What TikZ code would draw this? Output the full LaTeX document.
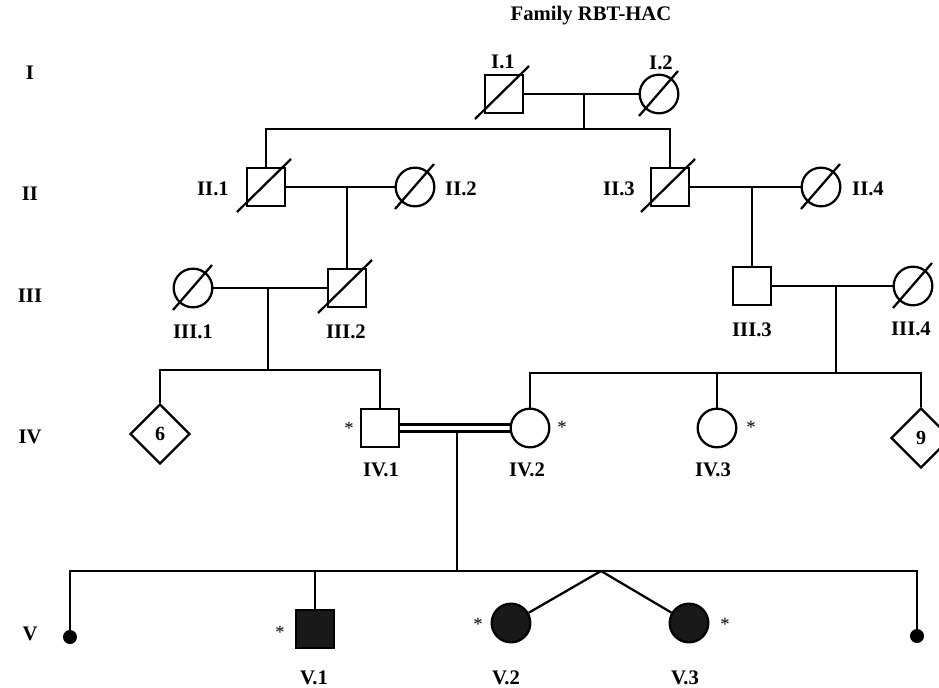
\documentclass[tikz,border=0pt]{standalone}
\usepackage{fontspec}
\setmainfont{Liberation Serif}
\usetikzlibrary{shapes.geometric}
\newcommand\deadsq[1]{\draw ([shift={(-29,25)}]#1.center) -- ([shift={(25,-28)}]#1.center);}
\newcommand\deadci[1]{\draw ([shift={(-20,22)}]#1.center) -- ([shift={(19,-23)}]#1.center);}
\begin{document}
\begin{tikzpicture}[x=0.75pt,y=-0.75pt,
 line width=1.7pt,
 male/.style={draw,rectangle,minimum size=28.5pt,inner sep=0pt},
 female/.style={draw,circle,minimum size=29pt,inner sep=0pt},
 unk/.style={draw,diamond,minimum size=45pt,inner sep=0pt,font=\bfseries\fontsize{15}{17}\selectfont},
 lbl/.style={font=\bfseries\fontsize{15.5}{17}\selectfont,inner sep=0pt},
 star/.style={font=\fontsize{14}{16}\selectfont,inner sep=0pt},
 leaf/.style={circle,fill,minimum size=10.5pt,inner sep=0pt},
 aff/.style={fill=black!90}
]
\useasboundingbox (0,0) rectangle (939,688);
% title and generations
\node[lbl] (title) at (591,16) {Family RBT-HAC};
\node[lbl] (gI) at (30,73) {I};
\node[lbl] (gII) at (30,194) {II};
\node[lbl] (gIII) at (30,296) {III};
\node[lbl] (gIV) at (30,437) {IV};
\node[lbl] (gV) at (30,634) {V};
% generation I
\node[male] (i1) at (504,94) {};
\node[female] (i2) at (659,94) {};
\node[lbl] (li1) at (503,62) {I.1};
\node[lbl] (li2) at (661,63) {I.2};
\deadsq{i1}
\deadci{i2}
\coordinate (m1) at (584,94);
\coordinate (c1) at (584,129);
\draw (i1) -- (i2);
\draw (m1) -- (c1);
% generation II
\node[male] (ii1) at (266,187) {};
\node[female] (ii2) at (415,187) {};
\node[male] (ii3) at (670,187) {};
\node[female] (ii4) at (821,187) {};
\node[lbl] (lii1) at (213,189) {II.1};
\node[lbl] (lii2) at (461,189) {II.2};
\node[lbl] (lii3) at (619,189) {II.3};
\node[lbl] (lii4) at (868,189) {II.4};
\deadsq{ii1}\deadci{ii2}\deadsq{ii3}\deadci{ii4}
\draw (ii1.north) -- (ii1.north |- c1) -- (ii3.north |- c1) -- (ii3.north);
\draw (ii1) -- (ii2);
\draw (ii3) -- (ii4);
\coordinate (m2) at (347,187);
\coordinate (m3) at (752,187);
% generation III
\node[female] (iii1) at (193,288) {};
\node[male] (iii2) at (347,288) {};
\node[male] (iii3) at (752,286) {};
\node[female] (iii4) at (913,286) {};
\node[lbl] (liii1) at (193,332) {III.1};
\node[lbl] (liii2) at (346,332) {III.2};
\node[lbl] (liii3) at (752,330) {III.3};
\node[lbl] (liii4) at (911,329) {III.4};
\deadci{iii1}\deadsq{iii2}\deadci{iii4}
\draw (m2) -- (iii2.north);
\draw (m3) -- (iii3.north);
\draw (iii1) -- (iii2);
\draw (iii3) -- (iii4);
\coordinate (m4) at (268,288);
\coordinate (c4) at (268,370);
\coordinate (m5) at (836,286);
\coordinate (c5) at (836,373);
\draw (m4) -- (c4);
\draw (m5) -- (c5);
% generation IV
\node[unk] (d6) at (160,434) {6};
\node[male] (iv1) at (380,428) {};
\node[female] (iv2) at (530,428) {};
\node[female] (iv3) at (717,428) {};
\node[unk] (d9) at (921,438) {9};
\node[star] (siv1) at (349,428) {*};
\node[star] (siv2) at (562,427) {*};
\node[star] (siv3) at (751,427) {*};
\node[lbl] (liv1) at (381,470) {IV.1};
\node[lbl] (liv2) at (527,470) {IV.2};
\node[lbl] (liv3) at (713,470) {IV.3};
\draw (d6.north) -- (d6.north |- c4) -- (iv1.north |- c4) -- (iv1.north);
\draw (iv2.north) -- (iv2.north |- c5) -- (d9.north |- c5) -- (d9.north);
\draw (iv3.north) -- (iv3.north |- c5);
\draw ([yshift=2.6pt]iv1.east) -- ([yshift=2.6pt]iv2.west);
\draw ([yshift=-2.6pt]iv1.east) -- ([yshift=-2.6pt]iv2.west);
\coordinate (m6) at (457,431.5);
\coordinate (c6) at (457,571);
\draw (m6) -- (c6);
% generation V
\node[leaf] (vl) at (70,637) {};
\node[leaf] (vr) at (917,636) {};
\node[male,aff] (v1) at (315,629) {};
\node[female,aff] (v2) at (511,623) {};
\node[female,aff] (v3) at (689,623) {};
\coordinate (tw) at (601,571);
\node[star] (sv1) at (280,632) {*};
\node[star] (sv2) at (478,624) {*};
\node[star] (sv3) at (725,624) {*};
\node[lbl] (lv1) at (314,678) {V.1};
\node[lbl] (lv2) at (506,678) {V.2};
\node[lbl] (lv3) at (685,678) {V.3};
\draw (vl.center) -- (vl.center |- c6) -- (vr.center |- c6) -- (vr.center);
\draw (v1.north) -- (v1.north |- c6);
\draw (tw) -- (v2);
\draw (tw) -- (v3);
\end{tikzpicture}
\end{document}
